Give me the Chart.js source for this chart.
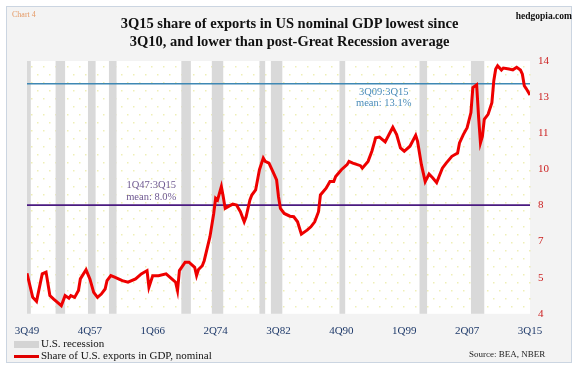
<!DOCTYPE html>
<html>
<head>
<meta charset="utf-8">
<script src="https://cdn.jsdelivr.net/npm/chart.js@4/dist/chart.umd.min.js"></script>
<style>
  body { margin: 0; background: #fff; width: 579px; height: 369px; overflow: hidden; position: relative; font-family: 'Liberation Serif', 'DejaVu Serif', serif; }
  #frame { position: absolute; left: 6px; top: 6px; width: 564px; height: 355px; border: 1px solid #cbd5e1; background: #f3f3f3; }
  #c { position: absolute; left: 0; top: 0; }
  .txt { position: absolute; white-space: nowrap; }
  #title { left: 0; width: 579px; top: 13.5px; text-align: center; font-weight: bold; font-size: 14.5px; line-height: 18px; color: #111; }
  #tag { left: 12px; top: 10px; font-size: 8px; color: #e59a66; }
  #site { right: 7px; top: 11px; font-size: 9.5px; font-weight: bold; color: #111; }
  #source { left: 469px; top: 349px; font-size: 9px; color: #222; }
  .leg { left: 14px; font-size: 11px; color: #111; }
  .leg span { display: inline-block; width: 25px; margin-right: 2px; vertical-align: middle; }
</style>
</head>
<body>
<div id="frame"></div>
<canvas id="c" width="579" height="369"></canvas>
<div class="txt" id="tag">Chart 4</div>
<div class="txt" id="site">hedgopia.com</div>
<div class="txt" id="title">3Q15 share of exports in US nominal GDP lowest since<br>3Q10, and lower than post-Great Recession average</div>
<div class="txt leg" style="top:337px"><span style="height:7px;background:#d4d4d4"></span>U.S. recession</div>
<div class="txt leg" style="top:349px"><span style="height:3px;background:#e00000"></span>Share of U.S. exports in GDP, nominal</div>
<div class="txt" id="source">Source: BEA, NBER</div>
<script>
// quarters and values
const quarters = ['3Q49','2Q50','4Q50','3Q51','1Q52','3Q52','1Q53','3Q53','1Q54','3Q54','1Q55','2Q55','4Q55',
  '2Q56','3Q56','2Q57','4Q57','2Q58','4Q58','2Q59','4Q59','1Q60','3Q60','1Q61','1Q62','4Q62','4Q63','3Q64',
  '2Q65','3Q65','1Q66','4Q66','4Q67','3Q68','1Q69','2Q69','3Q69','2Q70','4Q70','3Q71','4Q71','1Q72','3Q72',
  '4Q72','3Q73','1Q74','2Q74','3Q74','1Q75','2Q75','3Q75','1Q76','3Q76','1Q77','2Q77','3Q77','1Q78','2Q78',
  '4Q78','1Q79','3Q79','1Q80','3Q80','4Q80','2Q81','4Q81','2Q82','3Q82','4Q82','2Q83','1Q84','3Q84','1Q85',
  '3Q85','2Q86','4Q86','2Q87','4Q87','1Q88','4Q88','2Q89','4Q89','1Q90','4Q90','3Q91','4Q91','2Q92','2Q93',
  '3Q93','2Q94','4Q94','2Q95','4Q95','3Q96','1Q97','3Q97','1Q98','3Q98','1Q99','4Q99','3Q00','4Q00','2Q01',
  '4Q01','2Q02','4Q02','2Q03','1Q04','3Q04','2Q05','1Q06','2Q06','4Q06','2Q07','4Q07','1Q08','3Q08','4Q08',
  '1Q09','2Q09','3Q09','1Q10','3Q10','4Q10','1Q11','2Q11','4Q11','1Q12','4Q12','2Q13','4Q13','2Q14','3Q14',
  '4Q14','1Q15','3Q15'];
const exportShare = [5.6,4.65,4.49,5.58,5.65,4.72,4.58,4.45,4.32,4.72,4.62,4.72,4.65,
  4.92,5.38,5.74,5.38,4.85,4.65,4.78,4.98,5.31,5.51,5.45,5.31,5.25,5.38,5.58,
  5.71,5.05,5.51,5.51,5.58,5.38,5.25,4.92,5.71,6.04,6.04,5.84,5.51,5.75,5.9,
  6.1,7.04,7.97,8.57,8.5,9.03,8.63,8.17,8.26,8.34,8.3,8.17,8.04,7.64,7.84,
  8.5,8.7,8.9,9.7,10.16,10.03,9.96,9.63,9.3,8.63,8.17,7.97,7.86,7.84,7.64,
  7.15,7.31,7.44,7.64,8.04,8.7,8.97,9.23,9.23,9.43,9.7,9.9,10.03,9.96,9.86,
  9.76,10.03,10.43,10.96,10.99,10.8,11.09,11.38,11.09,10.56,10.43,10.63,11.06,10.82,9.9,
  9.23,9.53,9.37,9.19,9.76,9.96,10.23,10.36,10.76,11.09,11.36,11.96,12.95,13.06,11.8,
  10.76,11.02,11.69,11.89,12.35,13.22,13.68,13.81,13.64,13.72,13.68,13.65,13.75,13.64,13.48,
  13.02,12.91,12.66];

const recessionStart = ['4Q48','2Q53','3Q57','2Q60','4Q69','4Q73','1Q80','3Q81','3Q90','1Q01','4Q07'];
const recessionEnd   = ['4Q49','2Q54','2Q58','1Q61','4Q70','1Q75','3Q80','4Q82','1Q91','4Q01','2Q09'];

const meanRecent = 13.1;   // 3Q09:3Q15
const meanAll = 8.3;       // 1Q47:3Q15 line as drawn
const xTickLabels = ['3Q49','4Q57','1Q66','2Q74','3Q82','4Q90','1Q99','2Q07','3Q15'];
const yTickLabels = ['4','5','7','8','10','11','13','14'];

function qToYear(q) {
    const yy = parseInt(q.slice(2), 10);
    return (yy >= 40 ? 1900 : 2000) + yy + (parseInt(q[0], 10) - 1) / 4;
}

const xMin = qToYear(quarters[0]);
const xMax = qToYear(quarters[quarters.length - 1]);

const plotDecor = {
    id: 'plotDecor',
    beforeDatasetsDraw(chart) {
        const { ctx, chartArea: a, scales: { x } } = chart;
        ctx.save();
        ctx.fillStyle = '#ffffff';
        ctx.fillRect(a.left, a.top, a.right - a.left, a.bottom - a.top);
        ctx.fillStyle = 'rgba(225, 225, 120, 0.55)';
        let row = 0;
        for (let yy = a.top + 5; yy < a.bottom; yy += 8, row++) {
            for (let xx = a.left + 4 + (row % 2) * 6; xx < a.right; xx += 12) {
                ctx.fillRect(xx, yy, 1.5, 1.5);
            }
        }
        ctx.fillStyle = '#d9d9d9';
        recessionStart.forEach((s, i) => {
            const x0 = Math.max(x.getPixelForValue(qToYear(s)), a.left);
            const x1 = Math.min(x.getPixelForValue(qToYear(recessionEnd[i]) + 0.25), a.right);
            if (x1 > x0) ctx.fillRect(x0, a.top, x1 - x0, a.bottom - a.top);
        });
        ctx.restore();
    },
    afterDatasetsDraw(chart) {
        const { ctx, scales: { x, y } } = chart;
        ctx.save();
        ctx.font = '10.5px "Liberation Serif", serif';
        ctx.textAlign = 'center';
        ctx.textBaseline = 'middle';
        ctx.fillStyle = '#4a8cb8';
        ctx.fillText('3Q09:3Q15', x.getPixelForValue(1996.3), y.getPixelForValue(12.76));
        ctx.fillText('mean: 13.1%', x.getPixelForValue(1996.3), y.getPixelForValue(12.33));
        ctx.fillStyle = '#6e5890';
        ctx.fillText('1Q47:3Q15', x.getPixelForValue(1965.8), y.getPixelForValue(9.1));
        ctx.fillText('mean: 8.0%', x.getPixelForValue(1965.8), y.getPixelForValue(8.63));
        ctx.restore();
    }
};

new Chart(document.getElementById('c').getContext('2d'), {
    type: 'line',
    data: {
        datasets: [{
            label: 'Share of U.S. exports in GDP, nominal',
            data: quarters.map((q, i) => ({ x: qToYear(q), y: exportShare[i] })),
            borderColor: '#ee0000',
            borderWidth: 3,
            pointRadius: 0,
            tension: 0
        }, {
            label: 'mean 3Q09:3Q15',
            data: [{ x: xMin, y: meanRecent }, { x: xMax, y: meanRecent }],
            borderColor: '#3f88b4',
            borderWidth: 1.6,
            pointRadius: 0
        }, {
            label: 'mean 1Q47:3Q15',
            data: [{ x: xMin, y: meanAll }, { x: xMax, y: meanAll }],
            borderColor: '#4a1a80',
            borderWidth: 1.6,
            pointRadius: 0
        }]
    },
    options: {
        responsive: false,
        animation: false,
        layout: { padding: { top: 61, left: 27, right: 22, bottom: 21 } },
        plugins: {
            legend: { display: false },
            tooltip: { enabled: false }
        },
        scales: {
            x: {
                type: 'linear',
                min: xMin,
                max: xMax,
                grid: { display: false, drawTicks: false },
                border: { display: false },
                afterBuildTicks: (axis) => {
                    axis.ticks = xTickLabels.map(q => ({ value: qToYear(q) }));
                },
                ticks: {
                    autoSkip: false,
                    maxRotation: 0,
                    padding: 10.5,
                    color: '#1f3a6a',
                    font: { family: '"Liberation Serif", serif', size: 11 },
                    callback: (v, i) => xTickLabels[i]
                }
            },
            y: {
                position: 'right',
                min: 4,
                max: 14,
                grid: { display: false, drawTicks: false },
                border: { display: false },
                ticks: {
                    count: 8,
                    padding: 8,
                    color: '#cc2020',
                    font: { family: '"Liberation Serif", serif', size: 11 },
                    callback: (v, i) => yTickLabels[i]
                }
            }
        }
    },
    plugins: [plotDecor]
});
</script>
</body>
</html>
